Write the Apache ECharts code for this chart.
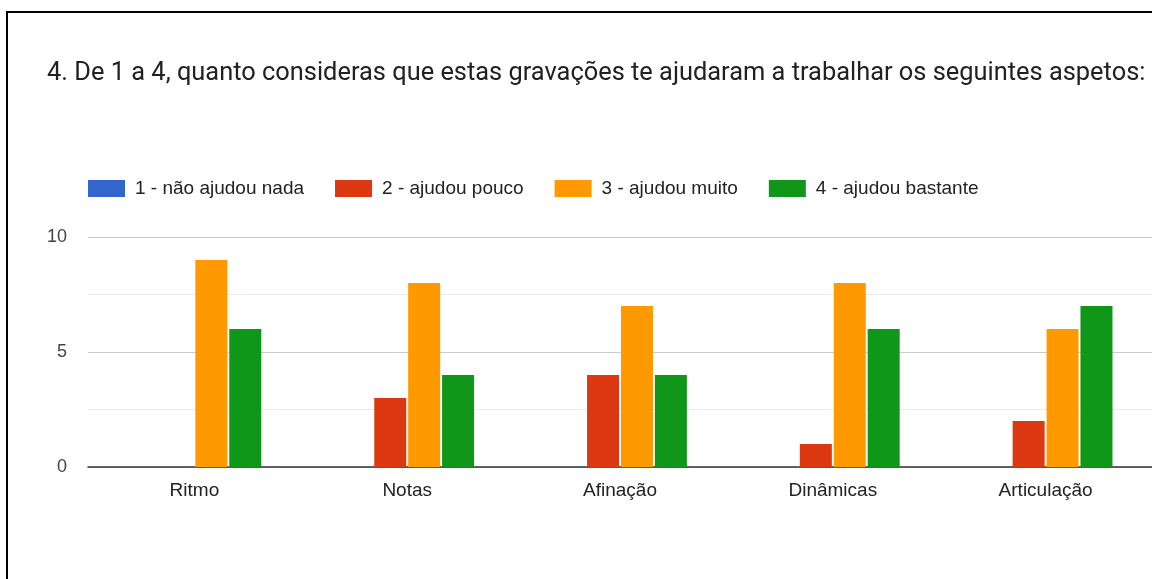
<!DOCTYPE html>
<html>
<head>
<meta charset="utf-8">
<script src="https://cdn.jsdelivr.net/npm/echarts@6/dist/echarts.min.js"></script>
<style>
  html, body { margin: 0; padding: 0; background: #fff; overflow: hidden; }
  #frame { position: absolute; left: 6px; top: 11px; width: 1200px; height: 620px; border: 2px solid #000; box-sizing: border-box; }
  #chart { position: absolute; left: 0; top: 0; width: 1152px; height: 579px; }
</style>
</head>
<body>
<div id="frame"></div>
<div id="chart"></div>
<script>
const titleText = '4. De 1 a 4, quanto consideras que estas gravações te ajudaram a trabalhar os seguintes aspetos:';
const categories = ['Ritmo', 'Notas', 'Afinação', 'Dinâmicas', 'Articulação'];
const seriesNames = ['1 - não ajudou nada', '2 - ajudou pouco', '3 - ajudou muito', '4 - ajudou bastante'];
const naoAjudouNada = [0, 0, 0, 0, 0];
const ajudouPouco = [0, 3, 4, 1, 2];
const ajudouMuito = [9, 8, 7, 8, 6];
const ajudouBastante = [6, 4, 4, 6, 7];
const colors = ['#3366cc', '#dc3912', '#ff9900', '#109618'];

const values = [naoAjudouNada, ajudouPouco, ajudouMuito, ajudouBastante];
const chart = echarts.init(document.getElementById('chart'));
const titleFont = 'Roboto, Arial, sans-serif';
const bodyFont = 'Arial, "Liberation Sans", sans-serif';

chart.setOption({
  animation: false,
  color: colors,
  title: {
    text: titleText,
    left: 42,
    top: 56,
    textStyle: { fontFamily: titleFont, fontSize: 25.4, fontWeight: 'normal', color: '#212121' }
  },
  legend: {
    left: 83,
    top: 174,
    itemWidth: 37,
    itemHeight: 17,
    itemGap: 31,
    icon: 'rect',
    textStyle: { fontFamily: bodyFont, fontSize: 19, color: '#222', padding: [0, 0, 0, 5] },
    data: seriesNames
  },
  grid: { left: 88, top: 237, width: 1065, height: 230, containLabel: false },
  xAxis: {
    type: 'category',
    data: categories,
    axisTick: { show: false },
    axisLine: { show: true, lineStyle: { color: '#333', width: 1.5 } },
    axisLabel: { fontFamily: bodyFont, fontSize: 19, color: '#222', margin: 14 }
  },
  yAxis: {
    type: 'value',
    min: 0,
    max: 10,
    interval: 5,
    axisLine: { show: false },
    axisTick: { show: false },
    axisLabel: { fontFamily: bodyFont, fontSize: 18, color: '#444', margin: 21 },
    splitLine: { lineStyle: { color: '#cccccc', width: 1 } },
    minorTick: { show: false, splitNumber: 2 },
    minorSplitLine: { show: true, lineStyle: { color: '#ebebeb', width: 1 } }
  },
  series: seriesNames.map((name, i) => ({
    name: name,
    type: 'bar',
    data: values[i],
    barWidth: 32,
    barGap: '6%',
    itemStyle: { color: colors[i] }
  }))
});
</script>
</body>
</html>
